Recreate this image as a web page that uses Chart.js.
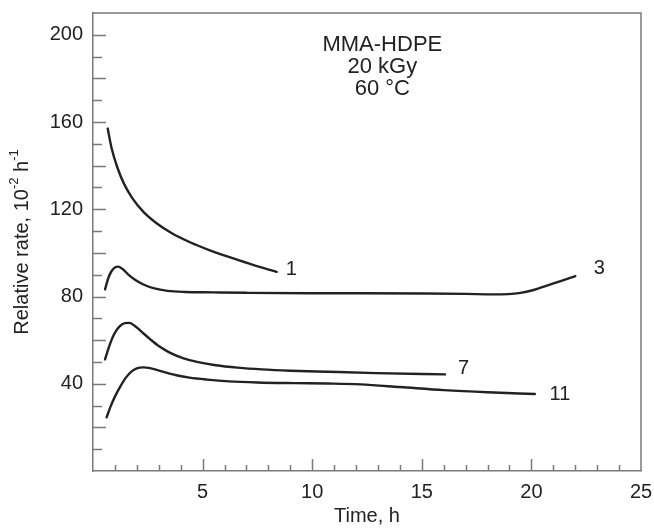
<!DOCTYPE html>
<html><head><meta charset="utf-8">
<script src="https://cdn.jsdelivr.net/npm/chart.js@4"></script>
<style>html,body{margin:0;padding:0;background:#fff}#wrap{width:654px;height:528px}</style>
</head><body><div id="wrap"><canvas id="c" width="654" height="528"></canvas></div>
<script>
// ---- data ----
const curveNames = ['1', '3', '7', '11'];
const time1 = [0.67, 0.85, 1.1, 1.4, 1.8, 2.3, 2.9, 3.6, 4.4, 5.3, 6.3, 7.3, 8.38];
const rate1 = [157, 148, 139.5, 132, 125, 118.8, 113.6, 109, 105, 101.3, 97.8, 94.5, 91.3];
const time3 = [0.55, 0.7, 0.85, 1.0, 1.15, 1.35, 1.6, 1.9, 2.3, 2.8, 3.4, 4.2, 5.5, 7, 10, 12.2, 15.2, 17, 18.3, 19.5, 20.1, 20.7, 21.4, 22.0];
const rate3 = [83.3, 88.5, 91.7, 93.3, 93.7, 92.6, 90.2, 87.8, 85.5, 83.7, 82.6, 82.1, 81.9, 81.7, 81.5, 81.5, 81.4, 81.2, 81.0, 81.7, 83.0, 85.0, 87.3, 89.4];
const time7 = [0.55, 0.75, 0.95, 1.2, 1.45, 1.65, 1.9, 2.2, 2.6, 3.0, 3.5, 4.1, 4.8, 5.6, 6.6, 7.7, 9.0, 10.7, 12.9, 16.06];
const rate7 = [51.2, 57.5, 62.5, 66.2, 67.8, 67.9, 66.6, 64.0, 60.5, 57.3, 54.3, 51.8, 49.9, 48.5, 47.4, 46.6, 46.0, 45.5, 44.9, 44.3];
const time11 = [0.62, 0.8, 1.0, 1.25, 1.5, 1.75, 2.0, 2.3, 2.6, 2.9, 3.3, 3.8, 4.4, 5.2, 6.2, 7.5, 9.2, 10.7, 12.2, 14, 16.0, 18, 20.16];
const rate11 = [24.6, 29.5, 34.1, 38.8, 42.8, 45.6, 47.1, 47.5, 47.2, 46.4, 45.2, 43.9, 42.8, 41.9, 41.1, 40.6, 40.3, 40.1, 39.7, 38.5, 37.1, 36.1, 35.3];
// curve label anchors (time, rate)
const labelTime = [9.05, 23.1, 16.9, 21.3];
const labelRate = [92.5, 93.0, 47.1, 35.0];
// annotation
const noteLines = ['MMA-HDPE', '20 kGy', '60 °C'];
const noteTime = 13.2;
const noteRate = [195.3, 185.3, 175.2];
const xTickLabels = [5, 10, 15, 20, 25];
const yTickLabels = [40, 80, 120, 160, 200];

const FONT = "'Liberation Sans', Arial, sans-serif";
const INK = '#222';
const AXIS = '#7a7a7a';

const seriesT = [time1, time3, time7, time11];
const seriesR = [rate1, rate3, rate7, rate11];
const datasets = seriesT.map((ts, i) => ({
  label: curveNames[i],
  data: ts.map((t, j) => ({x: t, y: seriesR[i][j]})),
  borderColor: INK, borderWidth: 2.4, pointRadius: 0, fill: false,
  cubicInterpolationMode: 'monotone', borderCapStyle: 'round', borderJoinStyle: 'round'
}));

const decor = {
  id: 'decor',
  afterDraw(chart) {
    const {ctx, chartArea: a, scales: {x, y}} = chart;
    ctx.save();
    ctx.strokeStyle = AXIS; ctx.lineWidth = 1.5;
    ctx.beginPath();
    ctx.moveTo(a.left, a.top); ctx.lineTo(a.right, a.top); ctx.lineTo(a.right, a.bottom);
    ctx.stroke();
    ctx.beginPath();
    x.ticks.forEach(t => {
      if (t.value <= 0 || t.value >= 25) return;
      const px = Math.round(x.getPixelForValue(t.value)) + 0.5;
      const len = t.value % 5 === 0 ? 12 : 6;
      ctx.moveTo(px, a.bottom); ctx.lineTo(px, a.bottom - len);
    });
    y.ticks.forEach(t => {
      if (t.value <= 0 || t.value > 200) return;
      const py = Math.round(y.getPixelForValue(t.value)) + 0.5;
      const len = t.value % 20 === 0 ? 13 : 9;
      ctx.moveTo(a.left, py); ctx.lineTo(a.left + len, py);
    });
    ctx.stroke();
    ctx.fillStyle = INK;
    ctx.font = '20px ' + FONT;
    ctx.textAlign = 'center'; ctx.textBaseline = 'middle';
    curveNames.forEach((n, i) => {
      ctx.fillText(n, x.getPixelForValue(labelTime[i]), y.getPixelForValue(labelRate[i]));
    });
    ctx.font = '22px ' + FONT;
    noteLines.forEach((s, i) => {
      ctx.fillText(s, x.getPixelForValue(noteTime), y.getPixelForValue(noteRate[i]));
    });
    const parts = [['Relative rate, 10', 20, 0], ['-2', 13, -8], [' h', 20, 0], ['-1', 13, -8]];
    let total = 0;
    parts.forEach(p => { ctx.font = p[1] + 'px ' + FONT; total += ctx.measureText(p[0]).width; });
    ctx.translate(22, (a.top + a.bottom) / 2);
    ctx.rotate(-Math.PI / 2);
    ctx.textAlign = 'left'; ctx.textBaseline = 'middle';
    let cx = -total / 2;
    parts.forEach(p => {
      ctx.font = p[1] + 'px ' + FONT;
      ctx.fillText(p[0], cx, p[2]);
      cx += ctx.measureText(p[0]).width;
    });
    ctx.restore();
  }
};

new Chart(document.getElementById('c'), {
  type: 'line',
  data: {datasets},
  plugins: [decor],
  options: {
    responsive: false, animation: false,
    layout: {padding: {top: 13, right: 13, left: 0, bottom: 0}},
    plugins: {legend: {display: false}, tooltip: {enabled: false}},
    scales: {
      x: {
        type: 'linear', min: 0, max: 25,
        grid: {display: false, drawTicks: false},
        border: {display: true, color: AXIS, width: 1.5},
        ticks: {stepSize: 1, autoSkip: false, maxRotation: 0, padding: 9, color: INK,
          font: {family: FONT, size: 20},
          callback: v => xTickLabels.includes(v) ? String(v) : ''},
        title: {display: true, text: 'Time, h', color: INK, font: {family: FONT, size: 20}, padding: {top: 0, bottom: 0}},
        afterFit(s) { s.height = 57; s.paddingLeft = 0; s.paddingRight = 0; }
      },
      y: {
        type: 'linear', min: 0, max: 210,
        grid: {display: false, drawTicks: false},
        border: {display: true, color: AXIS, width: 1.5},
        ticks: {stepSize: 10, autoSkip: false, padding: 10, color: INK,
          font: {family: FONT, size: 20},
          callback: v => yTickLabels.includes(v) ? String(v) : ''},
        afterFit(s) { s.width = 93; s.paddingTop = 0; s.paddingBottom = 0; }
      }
    }
  }
});
</script></body></html>
